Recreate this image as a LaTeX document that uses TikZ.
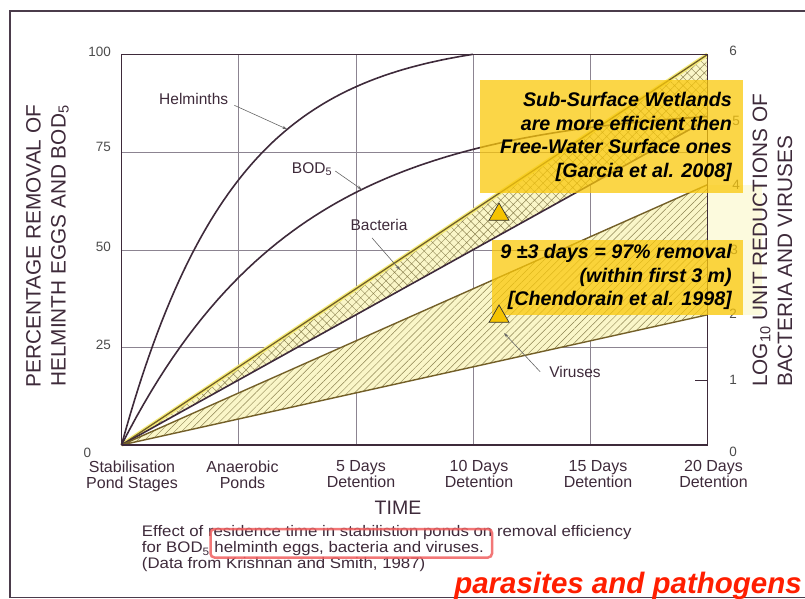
\documentclass[tikz,border=0pt]{standalone}
\usepackage{fontspec}
\setmainfont{Liberation Sans}
\newfontfamily\capfont[FakeStretch=1.1]{Liberation Sans}
\usetikzlibrary{arrows.meta,patterns.meta,shapes.geometric}

\definecolor{ink}{RGB}{62,42,58}
\definecolor{framegray}{RGB}{75,60,75}
\definecolor{gridgray}{RGB}{140,132,145}
\definecolor{bandfill}{RGB}{250,246,200}
\definecolor{hatch}{RGB}{140,130,80}
\definecolor{edgeolive}{RGB}{115,95,40}
\definecolor{glow}{RGB}{245,235,120}
\definecolor{noteyellow}{RGB}{250,200,10}
\definecolor{markgold}{RGB}{245,195,0}
\definecolor{boxred}{RGB}{240,95,95}
\definecolor{titlered}{RGB}{255,30,0}

\begin{document}
\begin{tikzpicture}[x=1pt,y=-1pt,
    every node/.style={inner sep=0pt,text=ink},
    gridline/.style={draw=gridgray,line width=0.6pt},
    curve/.style={draw=ink,line width=1.6pt},
    leader/.style={draw=black!60,line width=0.6pt,-{Stealth[length=5pt,width=3pt]}},
    ticklabel/.style={text=black!70,font=\fontsize{13.5}{14}\selectfont},
    stage/.style={align=center,anchor=north,font=\fontsize{16}{16}\selectfont},
    tag/.style={font=\fontsize{15.5}{16}\selectfont},
    axislabel/.style={rotate=90,font=\fontsize{20.8}{25}\selectfont},
    notebox/.style={fill=noteyellow,fill opacity=0.75},
    notetext/.style={anchor=north east,align=right,text=black,font=\fontsize{19.7}{23.5}\selectfont\bfseries\itshape},
    marker/.style={regular polygon,regular polygon sides=3,minimum size=23pt,fill=markgold,draw=black!80,line width=0.7pt}]
  \useasboundingbox (0,0) rectangle (805,599);
  % page frame
  \draw[framegray,line width=1.8pt] (805,11) -- (10,11) -- (10,597.5) -- (805,597.5);

  % grid
  \foreach \gx in {238.7,355.9,473.1,590.3}
    \draw[gridline] (\gx,54.5) -- (\gx,445);
  \foreach \gy in {347.4,249.8,152.2}
    \draw[gridline] (121.5,\gy) -- (707.5,\gy);
  \fill[glow,opacity=0.25] (707.5,185) rectangle (762,315);

  % bands
  \coordinate (o) at (121.5,445);
  \coordinate (bactup) at (707.5,54.5);
  \coordinate (bactlow) at (707.5,119.6);
  \coordinate (virup) at (707.5,184.7);
  \coordinate (virlow) at (707.5,314.8);
  \fill[bandfill] (o) -- (bactup) -- (bactlow) -- cycle;
  \fill[bandfill] (o) -- (virup) -- (virlow) -- cycle;
  \path[pattern={Hatch[angle=45,distance=6pt,line width=0.45pt]},pattern color=hatch]
    (o) -- (bactup) -- (bactlow) -- cycle;
  \path[pattern={Lines[angle=45,distance=5pt,line width=0.45pt]},pattern color=hatch]
    (o) -- (virup) -- (virlow) -- cycle;
  \draw[glow,line width=4pt] (o) -- (bactup);
  \draw[edgeolive,line width=1.3pt] (o) -- (bactup);
  \draw[ink,line width=1.6pt] (o) -- (bactlow);
  \draw[edgeolive,line width=1.4pt] (o) -- (virup) (o) -- (virlow);

  % curves
  \draw[curve] plot[domain=0:3,samples=80]
    ({121.5+117.2*\x},{445-3.906*104.5*(1-exp(-1.05*\x))});
  \draw[curve] plot[domain=0:5,samples=80]
    ({121.5+117.2*\x},{445-3.906*87*(1-exp(-0.68*\x))});

  % axes
  \draw[ink,line width=0.7pt] (121.5,54.5) -- (707.5,54.5);
  \draw[ink,line width=1.3pt] (121.5,54.5) -- (o);
  \draw[ink,line width=1.8pt] (o) -- (707.5,445);
  \draw[ink,line width=1pt] (707.5,54.5) -- (707.5,445);
  \draw[ink,line width=0.8pt] (695,380) -- (707.5,380);

  % tick labels
  \node[ticklabel,anchor=east] (p100) at (111,52) {100};
  \node[ticklabel,anchor=east] (p75) at (111,147) {75};
  \node[ticklabel,anchor=east] (p50) at (111,247) {50};
  \node[ticklabel,anchor=east] (p25) at (111,345) {25};
  \node[ticklabel] (p0) at (87.5,452.5) {0};
  \node[ticklabel] (l6) at (733,50.5) {6};
  \node[ticklabel] (l5) at (736,121) {5};
  \node[ticklabel] (l4) at (736,185) {4};
  \node[ticklabel] (l3) at (734,250) {3};
  \node[ticklabel] (l2) at (733,314) {2};
  \node[ticklabel] (l1) at (733,380) {1};
  \node[ticklabel] (l0) at (733,451.5) {0};

  % stage labels
  \node[stage] (s0) at (132,460.5) {Stabilisation\\Pond Stages};
  \node[stage] (s1) at (242.5,460.5) {Anaerobic\\Ponds};
  \node[stage] (s2) at (361,460.5) {5 Days\\Detention};
  \node[stage] (s3) at (479,460.5) {10 Days\\Detention};
  \node[stage] (s4) at (598,460.5) {15 Days\\Detention};
  \node[stage] (s5) at (713.5,460.5) {20 Days\\Detention};
  \node[font=\fontsize{19.5}{20}\selectfont] (time) at (398,508) {TIME};

  % axis titles
  \node[axislabel,align=center] (ytitle) at (47.5,246)
    {PERCENTAGE REMOVAL OF\\HELMINTH EGGS AND BOD\textsubscript{5}};
  \node[axislabel,align=left,anchor=west] (logtitle) at (772.5,387)
    {LOG\textsubscript{10} UNIT REDUCTIONS OF\\BACTERIA AND VIRUSES};

  % curve tags
  \node[tag] (helm) at (193.7,99.3) {Helminths};
  \node[tag] (bod) at (312,169) {BOD\textsubscript{5}};
  \node[tag] (bact) at (379,225) {Bacteria};
  \node[tag] (vir) at (575,371.7) {Viruses};
  \coordinate (helmtip) at ({121.5+117.2*1.414},{445-3.906*104.5*(1-exp(-1.05*1.414))});
  \coordinate (bodtip) at ({121.5+117.2*2.05},{445-3.906*87*(1-exp(-0.68*2.05))});
  \coordinate (bacttip) at (400,270);
  \coordinate (virtip) at (504,333);
  \draw[leader] ([shift={(6,6)}]helm.east) -- (helmtip);
  \draw[leader] ([shift={(3,2)}]bod.east) -- (bodtip);
  \draw[leader] ([shift={(-7,7)}]bact.south) -- (bacttip);
  \draw[leader] ([xshift=-9pt]vir.west) -- (virtip);

  % caption
  \node[anchor=north west,align=left,font=\capfont\fontsize{15.3}{16}\selectfont] (caption) at (141.7,525.5)
    {Effect of residence time in stabilistion ponds on removal efficiency\\
     for BOD\textsubscript{5} helminth eggs, bacteria and viruses.\\
     (Data from Krishnan and Smith, 1987)};
  \draw[boxred,line width=2.5pt,rounded corners=4pt,opacity=0.85] (210.5,529) rectangle (492,557.5);
  \node[anchor=base east,text=titlered,font=\fontsize{29.5}{30}\selectfont\bfseries\itshape] (topic) at (802,593.3)
    {parasites and pathogens};

  % notes
  \fill[notebox] (480,80) rectangle (743,192.7);
  \fill[notebox] (491.5,240) rectangle (743,315);
  \node[marker] (tri1) at (499,214.5) {};
  \node[marker] (tri2) at (499,316.5) {};
  \node[notetext] (garcia) at (732,92.5)
    {Sub-Surface Wetlands\\are more efficient then\\Free-Water Surface ones\\{[}Garcia et al. 2008{]}};
  \node[notetext] (chendorain) at (732,244.5)
    {9 ±3 days = 97\% removal\\(within first 3 m)\\{[}Chendorain et al. 1998{]}};
\end{tikzpicture}
\end{document}
